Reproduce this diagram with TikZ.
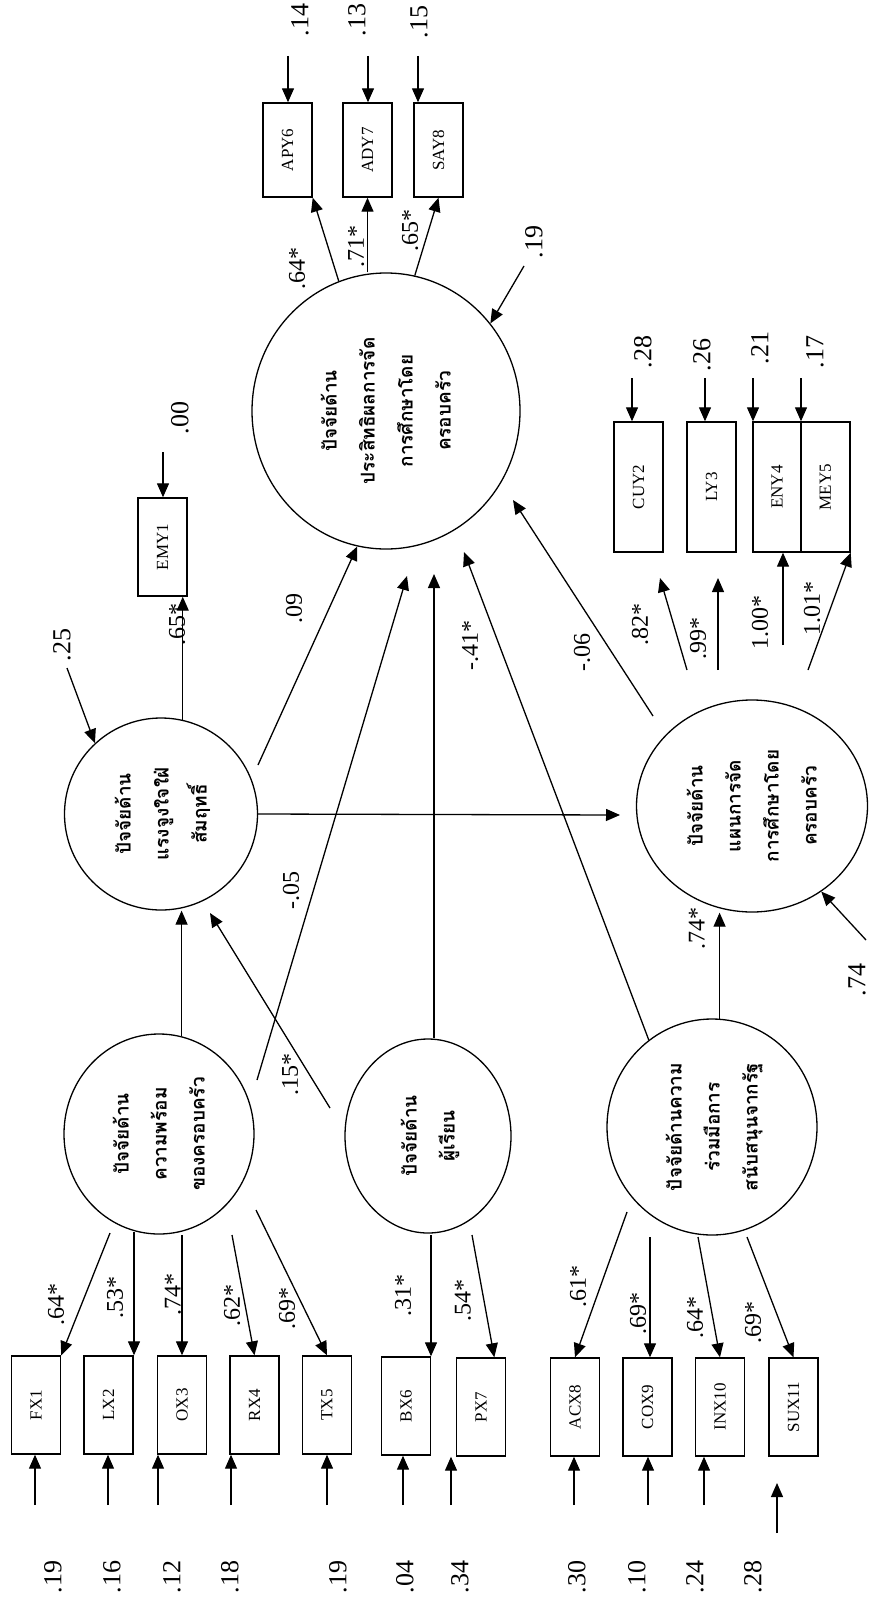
\documentclass[tikz,border=0pt]{standalone}
\usepackage{fontspec}
\setmainfont{Liberation Serif}
\newfontfamily\thaifont[Script=Thai]{Loma}
\usetikzlibrary{shapes.geometric,arrows.meta}

\tikzset{
  latent/.style={draw, ellipse, line width=1.3pt, inner sep=0pt,
    font=\thaifont\bfseries\fontsize{19}{38}\selectfont},
  obsbox/.style={draw, line width=1.4pt, minimum width=49pt, minimum height=98pt,
    inner sep=0pt, font=\fontsize{17}{19}\selectfont},
  coef/.style={rotate=90, inner sep=0pt, font=\fontsize{24}{26}\selectfont},
  resid/.style={rotate=90, inner sep=0pt, font=\fontsize{26}{28}\selectfont},
  arw/.style={line width=1.3pt, -{Triangle[length=14pt,width=12pt]}},
}
\newcommand{\vlines}[1]{\rotatebox{90}{\begin{tabular}{@{}c@{}}#1\end{tabular}}}
\newcommand{\vname}[1]{\rotatebox{90}{#1}}

\begin{document}
\begin{tikzpicture}[x=1pt,y=-1pt]
\path[use as bounding box, fill=white] (0,0) rectangle (871,1603);

% latent factors
\node[latent, minimum width=268pt, minimum height=276pt] (outc) at (386,411) {\vlines{ปัจจัยด้าน\\ประสิทธิผลการจัด\\การศึกษาโดย\\ครอบครัว}};
\node[latent, minimum width=193pt, minimum height=192pt] (motv) at (161,814) {\vlines{ปัจจัยด้าน\\แรงจูงใจใฝ่\\สัมฤทธิ์}};
\node[latent, minimum width=231pt, minimum height=212pt] (plan) at (752,806) {\vlines{ปัจจัยด้าน\\แผนการจัด\\การศึกษาโดย\\ครอบครัว}};
\node[latent, minimum width=190pt, minimum height=200pt] (fam) at (159,1134) {\vlines{ปัจจัยด้าน\\ความพร้อม\\ของครอบครัว}};
\node[latent, minimum width=166pt, minimum height=194pt] (lrn) at (428,1136) {\vlines{ปัจจัยด้าน\\ผู้เรียน}};
\node[latent, minimum width=210pt, minimum height=216pt] (gov) at (712,1127) {\vlines{ปัจจัยด้านความ\\ร่วมมือการ\\สนับสนุนจากรัฐ}};

% observed variables
\node[obsbox, minimum height=94pt] (apy6) at (287.5,150) {\vname{APY6}};
\node[obsbox, minimum height=94pt] (ady7) at (367.5,150) {\vname{ADY7}};
\node[obsbox, minimum height=94pt] (say8) at (438.5,150) {\vname{SAY8}};
\node[obsbox] (emy1) at (162.5,547) {\vname{EMY1}};
\node[obsbox, minimum height=130pt] (cuy2) at (638.5,487) {\vname{CUY2}};
\node[obsbox, minimum height=130pt] (ly3) at (711.5,487) {\vname{LY3}};
\node[obsbox, minimum height=130pt, minimum width=48pt] (eny4) at (777,487) {\vname{ENY4}};
\node[obsbox, minimum height=130pt] (mey5) at (825.5,487) {\vname{MEY5}};
\node[obsbox] (fx1) at (36,1405) {\vname{FX1}};
\node[obsbox] (lx2) at (108.5,1405) {\vname{LX2}};
\node[obsbox] (ox3) at (182,1405) {\vname{OX3}};
\node[obsbox] (rx4) at (254.5,1405) {\vname{RX4}};
\node[obsbox] (tx5) at (327,1405) {\vname{TX5}};
\node[obsbox] (bx6) at (406,1406) {\vname{BX6}};
\node[obsbox] (px7) at (481,1407) {\vname{PX7}};
\node[obsbox] (acx8) at (575,1407) {\vname{ACX8}};
\node[obsbox] (cox9) at (647.5,1407) {\vname{COX9}};
\node[obsbox] (inx10) at (720,1407) {\vname{INX10}};
\node[obsbox] (sux11) at (793.5,1407) {\vname{SUX11}};

% error terms
\coordinate (eapy6) at (288,56);  \draw[arw] (eapy6) -- (eapy6 |- apy6.north);
\coordinate (eady7) at (368,56);  \draw[arw] (eady7) -- (eady7 |- ady7.north);
\coordinate (esay8) at (418,56);  \draw[arw] (esay8) -- (esay8 |- say8.north);
\coordinate (eemy1) at (163,452); \draw[arw] (eemy1) -- (eemy1 |- emy1.north);
\coordinate (ecuy2) at (632,378); \draw[arw] (ecuy2) -- (ecuy2 |- cuy2.north);
\coordinate (ely3) at (705,378);  \draw[arw] (ely3) -- (ely3 |- ly3.north);
\coordinate (eeny4) at (753,378); \draw[arw] (eeny4) -- (eeny4 |- eny4.north);
\coordinate (emey5) at (801,378); \draw[arw] (emey5) -- (emey5 |- mey5.north);
\coordinate (efx1) at (35,1505);  \draw[arw] (efx1) -- (efx1 |- fx1.south);
\coordinate (elx2) at (108,1505); \draw[arw] (elx2) -- (elx2 |- lx2.south);
\coordinate (eox3) at (158,1505); \draw[arw] (eox3) -- (eox3 |- ox3.south);
\coordinate (erx4) at (231,1505); \draw[arw] (erx4) -- (erx4 |- rx4.south);
\coordinate (etx5) at (327,1505); \draw[arw] (etx5) -- (etx5 |- tx5.south);
\coordinate (ebx6) at (403,1505); \draw[arw] (ebx6) -- (ebx6 |- bx6.south);
\coordinate (epx7) at (451,1505); \draw[arw] (epx7) -- (epx7 |- px7.south);
\coordinate (eacx8) at (574,1505); \draw[arw] (eacx8) -- (eacx8 |- acx8.south);
\coordinate (ecox9) at (648,1505); \draw[arw] (ecox9) -- (ecox9 |- cox9.south);
\coordinate (einx10) at (704,1505); \draw[arw] (einx10) -- (einx10 |- inx10.south);
\coordinate (esux11) at (777,1533); \coordinate (tsux11) at (777,1483);
\draw[arw] (esux11) -- (tsux11);

% loadings
\draw[arw] (outc.110) -- (apy6.south east);
\draw[arw] (ady7.south |- outc.north) -- (ady7.south);
\draw[arw] (outc.78) -- (say8.south);
\draw[arw] (motv.77) -- (motv.77 |- emy1.south);
\coordinate (p1) at (687,670); \coordinate (t1) at (660,578);
\coordinate (p2) at (718,670); \coordinate (t2) at (718,578);
\coordinate (p3) at (783,645); \coordinate (p4) at (808,670);
\draw[arw] (p1) -- (t1);
\draw[arw] (p2) -- (t2);
\draw[arw] (p3) -- (p3 |- eny4.south);
\draw[arw] (p4) -- (mey5.south east);
\coordinate (f1) at (110,1233); \draw[arw] (f1) -- (fx1.north east);
\coordinate (f2) at (134,1232); \draw[arw] (f2) -- (f2 |- lx2.north);
\coordinate (f3) at (182,1235); \draw[arw] (f3) -- (f3 |- ox3.north);
\coordinate (f4) at (232,1235); \draw[arw] (f4) -- (rx4.north);
\coordinate (f5) at (256,1210); \draw[arw] (f5) -- (tx5.north);
\coordinate (l1) at (431,1235); \draw[arw] (l1) -- (l1 |- bx6.north);
\coordinate (l2) at (472,1235); \draw[arw] (l2) -- (px7.75);
\coordinate (g1) at (627,1212); \draw[arw] (g1) -- (acx8.north);
\coordinate (g2) at (650,1237); \draw[arw] (g2) -- (g2 |- cox9.north);
\coordinate (g3) at (698,1237); \draw[arw] (g3) -- (inx10.north);
\coordinate (g4) at (747,1237); \draw[arw] (g4) -- (sux11.north);

% structural paths
\coordinate (sMO) at (258,765); \draw[arw] (sMO) -- (outc.-102);
\coordinate (tMP) at (620,815); \draw[arw] (motv.east) -- (tMP);
\coordinate (sFO) at (257,1080); \coordinate (tFO) at (407,576); \draw[arw] (sFO) -- (tFO);
\coordinate (sLM) at (330,1108); \coordinate (tLM) at (210,913); \draw[arw] (sLM) -- (tLM);
\draw[arw] (fam.77) -- (fam.77 |- motv.south);
\coordinate (tLO) at (434,574); \draw[arw] (tLO |- lrn.north) -- (tLO);
\coordinate (tGO) at (464,552); \draw[arw] (gov.126) -- (tGO);
\coordinate (sPO) at (653,716); \coordinate (tPO) at (513,500); \draw[arw] (sPO) -- (tPO);
\draw[arw] (gov.86) -- (gov.86 |- plan.south);

% disturbances
\coordinate (d25) at (67,668); \draw[arw] (d25) -- (motv.133);
\coordinate (d19) at (524,266); \draw[arw] (d19) -- (outc.40);
\coordinate (d74) at (866,940); \draw[arw] (d74) -- (plan.-51);

% residual values
\node[resid] (rapy6) at (300,20) {.14};
\node[resid] (rady7) at (357,20) {.13};
\node[resid] (rsay8) at (419,22) {.15};
\node[resid] (remy1) at (180,418) {.00};
\node[resid] (rcuy2) at (643,352) {.28};
\node[resid] (rly3) at (702,355) {.26};
\node[resid] (reny4) at (760,348) {.21};
\node[resid] (rmey5) at (815,352) {.17};
\node[resid] (rfx1) at (53,1577) {.19};
\node[resid] (rlx2) at (112,1577) {.16};
\node[resid] (rox3) at (172,1577) {.12};
\node[resid] (rrx4) at (230,1577) {.18};
\node[resid] (rtx5) at (338,1577) {.19};
\node[resid] (rbx6) at (405,1577) {.04};
\node[resid] (rpx7) at (460,1577) {.34};
\node[resid] (racx8) at (577,1577) {.30};
\node[resid] (rcox9) at (637,1577) {.10};
\node[resid] (rinx10) at (695,1577) {.24};
\node[resid] (rsux11) at (753,1577) {.28};
\node[resid] (rmotv) at (62,645) {.25};
\node[resid] (routc) at (534,242) {.19};
\node[resid] (rplan) at (857,980) {.74};

% coefficients
\node[coef] (capy6) at (297,268) {.64*};
\node[coef] (cady7) at (356,246) {.71*};
\node[coef] (csay8) at (410,230) {.65*};
\node[coef] (cemy1) at (177,624) {.65*};
\node[coef] (ccuy2) at (640,624) {.82*};
\node[coef] (cly3) at (698,638) {.99*};
\node[coef] (ceny4) at (760,622) {1.00*};
\node[coef] (cmey5) at (812,608) {1.01*};
\node[coef] (cfx1) at (56,1304) {.64*};
\node[coef] (clx2) at (115,1297) {.53*};
\node[coef] (cox3) at (173,1294) {.74*};
\node[coef] (crx4) at (232,1305) {.62*};
\node[coef] (ctx5) at (287,1308) {.69*};
\node[coef] (cbx6) at (403,1295) {.31*};
\node[coef] (cpx7) at (463,1300) {.54*};
\node[coef] (cacx8) at (578,1286) {.61*};
\node[coef] (ccox9) at (638,1313) {.69*};
\node[coef] (cinx10) at (695,1317) {.64*};
\node[coef] (csux11) at (753,1322) {.69*};
\node[coef] (cMO) at (294,608) {.09};
\node[coef] (cFO) at (291,890) {-.05};
\node[coef] (cLM) at (290,1074) {.15*};
\node[coef] (cLO) at (470,645) {-.41*};
\node[coef] (cPO) at (582,652) {-.06};
\node[coef] (cGP) at (697,928) {.74*};
\end{tikzpicture}
\end{document}
